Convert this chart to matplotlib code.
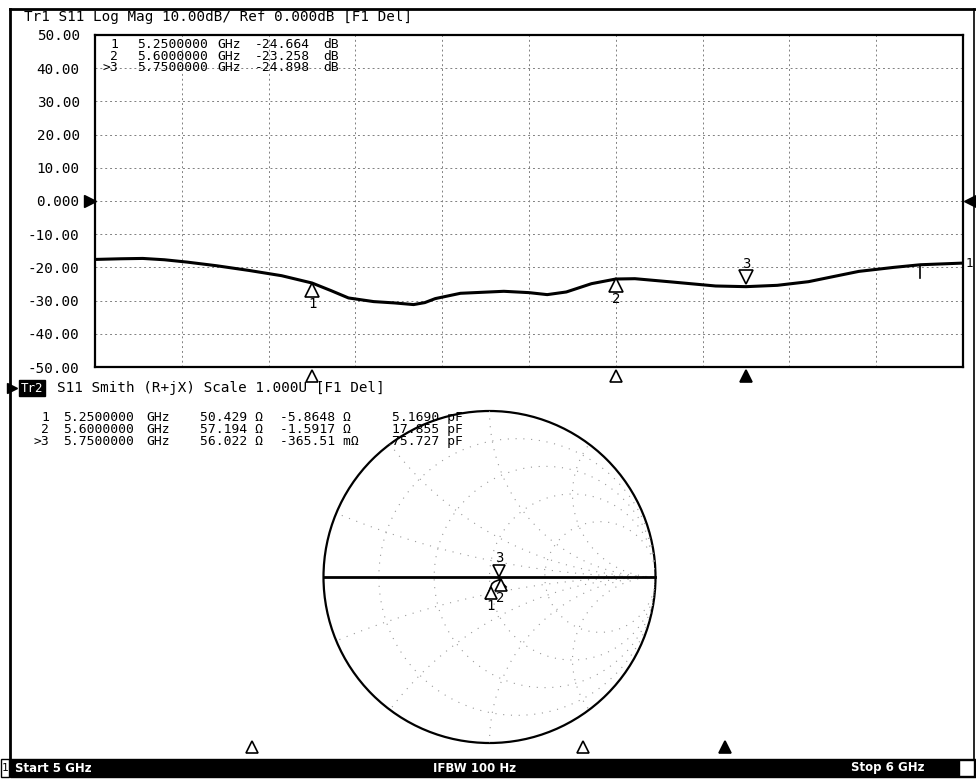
import numpy as np
import matplotlib
matplotlib.use("Agg")
import matplotlib.pyplot as plt
from matplotlib.transforms import offset_copy, blended_transform_factory
from matplotlib.patches import Circle, Rectangle

plt.rcParams['font.family'] = ['DejaVu Sans Mono', 'DejaVu Sans']

# S11 log mag trace
freq_ghz = [5.000, 5.030, 5.055, 5.080, 5.106, 5.140, 5.177, 5.215, 5.250, 5.272,
            5.292, 5.321, 5.345, 5.367, 5.380, 5.392, 5.421, 5.471, 5.500, 5.521,
            5.543, 5.572, 5.600, 5.622, 5.665, 5.715, 5.750, 5.786, 5.822, 5.850,
            5.880, 5.920, 5.951, 6.000]
s11_db = [-17.6, -17.4, -17.3, -17.7, -18.4, -19.5, -20.9, -22.5, -24.7, -27.0,
          -29.2, -30.3, -30.7, -31.2, -30.6, -29.4, -27.8, -27.2, -27.6, -28.2,
          -27.4, -24.9, -23.5, -23.4, -24.4, -25.6, -25.8, -25.4, -24.3, -22.8,
          -21.2, -20.0, -19.2, -18.7]

ytick_vals = [50, 40, 30, 20, 10, 0, -10, -20, -30, -40, -50]
ytick_labels = ["50.00", "40.00", "30.00", "20.00", "10.00", "0.000",
                "-10.00", "-20.00", "-30.00", "-40.00", "-50.00"]

# markers
marker_ids = ["1", "2", "3"]
marker_freq = [5.25, 5.60, 5.75]
marker_db = [-24.664, -23.258, -24.898]
marker_r = [50.429, 57.194, 56.022]
marker_x = [-5.8648, -1.5917, -0.36551]
marker_r_txt = ["50.429 Ω", "57.194 Ω", "56.022 Ω"]
marker_x_txt = ["-5.8648 Ω", "-1.5917 Ω", "-365.51 mΩ"]
marker_c_txt = ["5.1690 pF", "17.855 pF", "75.727 pF"]
active = 2

# smith trace (reflection coefficient), rough reading near the centre
smith_re = [-0.02, -0.01, 0.000, 0.008, 0.015, 0.030, 0.050, 0.067, 0.062, 0.057, 0.070, 0.100]
smith_im = [-0.133, -0.105, -0.080, -0.058, -0.040, -0.028, -0.020, -0.014, -0.006, -0.003, -0.030, -0.060]

FS = 10.3   # header font
FM = 9.4    # marker readout font

fig = plt.figure(figsize=(9.76, 7.79), dpi=100)

# overlay in screen pixels for frame, header texts, status bar
ov = fig.add_axes([0, 0, 1, 1])
ov.set_xlim(0, 976)
ov.set_ylim(779, 0)
ov.axis("off")

ov.plot([10, 976], [9, 9], color="black", lw=2)
ov.plot([10, 10], [9, 760], color="black", lw=2)
ov.plot([974, 974], [9, 760], color="black", lw=1.2)

ov.text(24, 17, "Tr1 S11 Log Mag 10.00dB/ Ref 0.000dB [F1 Del]", fontsize=FS, va="center")

# smith header
ov.plot([12], [388], marker=">", color="black", ms=7)
ov.text(21, 388, "Tr2", fontsize=9, color="white", va="center",
        bbox=dict(boxstyle="square,pad=0.15", fc="black", ec="black"))
ov.text(57, 388, "S11 Smith (R+jX) Scale 1.000U [F1 Del]", fontsize=FS, va="center")

for i in range(3):
    y = 417 + 12 * i
    pre = (">" if i == active else "") + marker_ids[i]
    ov.text(49, y, pre, fontsize=FM, va="center", ha="right")
    ov.text(63, y, f"{marker_freq[i]:.7f}", fontsize=FM, va="center")
    ov.text(146, y, "GHz", fontsize=FM, va="center")
    ov.text(200, y, marker_r_txt[i], fontsize=FM, va="center")
    ov.text(280, y, marker_x_txt[i], fontsize=FM, va="center")
    ov.text(463, y, marker_c_txt[i], fontsize=FM, va="center", ha="right")

# status bar
ov.add_patch(Rectangle((10, 759), 966, 18, color="black"))
ov.add_patch(Rectangle((1, 759), 8, 18, fc="white", ec="black", lw=1))
ov.text(5, 768, "1", fontsize=8, va="center", ha="center")
ov.text(15, 768, "Start 5 GHz", fontsize=8.5, color="white", weight="bold",
        family="DejaVu Sans", va="center")
ov.text(475, 768, "IFBW 100 Hz", fontsize=8.5, color="white", weight="bold",
        family="DejaVu Sans", va="center", ha="center")
ov.text(888, 768, "Stop 6 GHz", fontsize=8.5, color="white", weight="bold",
        family="DejaVu Sans", va="center", ha="center")
ov.add_patch(Rectangle((959, 760), 15, 16, fc="white", ec="black", lw=1))

# bottom stimulus markers under smith panel (5 GHz -> x=16, 6 GHz -> x=961)
for i, f in enumerate(marker_freq):
    xb = 16 + (f - 5.0) * 945
    ov.plot([xb], [747], marker="^", ms=9, mec="black", mew=1.2,
            mfc="black" if i == active else "white", clip_on=False)

# ---- log mag panel ----
ax = fig.add_axes([95 / 976, 1 - 367 / 779, 868 / 976, 332 / 779])
ax.set_xlim(5.0, 6.0)
ax.set_ylim(-50, 50)
ax.set_yticks(ytick_vals)
ax.set_yticklabels(ytick_labels, fontsize=FS)
ax.set_xticks(np.arange(5.0, 6.001, 0.1))
ax.set_xticklabels([])
ax.tick_params(length=0, pad=11)
ax.grid(True, color="0.5", linestyle=(0, (2, 3)), lw=0.7)
for s in ax.spines.values():
    s.set_linewidth(1.6)

ax.plot(freq_ghz, s11_db, color="black", lw=2.2, solid_capstyle="butt")

# trace end label and small stimulus tick
ax.text(1.003, s11_db[-1], "1", transform=blended_transform_factory(ax.transAxes, ax.transData),
        fontsize=9, va="center", ha="left", clip_on=False)
ax.plot([5.95, 5.95], [-19.2, -23.2], color="black", lw=1.2)

# reference arrows at 0 dB
tr_l = offset_copy(blended_transform_factory(ax.transAxes, ax.transData), fig=fig, x=-5, y=0, units="dots")
tr_r = offset_copy(blended_transform_factory(ax.transAxes, ax.transData), fig=fig, x=7, y=0, units="dots")
ax.plot([0], [0], marker=">", color="black", ms=9, transform=tr_l, clip_on=False)
ax.plot([1], [0], marker="<", color="black", ms=9, transform=tr_r, clip_on=False)

# marker readout (placed in screen pixels)
for i in range(3):
    y = 44.5 + 11.5 * i
    pre = (">" if i == active else "") + marker_ids[i]
    ax.text(118, y, pre, transform=ov.transData, fontsize=FM, va="center", ha="right")
    ax.text(137, y, f"{marker_freq[i]:.7f}", transform=ov.transData, fontsize=FM, va="center")
    ax.text(217, y, "GHz", transform=ov.transData, fontsize=FM, va="center")
    ax.text(255, y, f"{marker_db[i]:.3f}", transform=ov.transData, fontsize=FM, va="center")
    ax.text(323, y, "dB", transform=ov.transData, fontsize=FM, va="center")

# marker triangles on the trace
below = offset_copy(ax.transData, fig=fig, x=0, y=-7, units="dots")
below_lbl = offset_copy(ax.transData, fig=fig, x=0, y=-21, units="dots")
above = offset_copy(ax.transData, fig=fig, x=0, y=7, units="dots")
above_lbl = offset_copy(ax.transData, fig=fig, x=0, y=20, units="dots")
for i, f in enumerate(marker_freq):
    if i == active:
        ax.plot([f], [marker_db[i]], marker="v", ms=10, mfc="white", mec="black", mew=1.2, transform=above)
        ax.text(f, marker_db[i], marker_ids[i], transform=above_lbl, fontsize=10, ha="center", va="center")
    else:
        ax.plot([f], [marker_db[i]], marker="^", ms=10, mfc="white", mec="black", mew=1.2, transform=below)
        ax.text(f, marker_db[i], marker_ids[i], transform=below_lbl, fontsize=10, ha="center", va="center")

# stimulus triangles below the log mag grid
tr_b = offset_copy(blended_transform_factory(ax.transData, ax.transAxes), fig=fig, x=0, y=-9, units="dots")
for i, f in enumerate(marker_freq):
    ax.plot([f], [0], marker="^", ms=9, mec="black", mew=1.2,
            mfc="black" if i == active else "white", transform=tr_b, clip_on=False)

# ---- smith panel ----
sm = fig.add_axes([(489.5 - 166) / 976, 1 - (577 + 166) / 779, 332 / 976, 332 / 779])
sm.set_xlim(-1, 1)
sm.set_ylim(-1, 1)
sm.axis("off")
sm.patch.set_visible(False)

edge = Circle((0, 0), 1, fill=False, ec="black", lw=1.6, clip_on=False)
sm.add_patch(edge)
clip = Circle((0, 0), 1, transform=sm.transData)

t = np.linspace(0, 2 * np.pi, 400)
for r in [0.2, 0.5, 1.0, 2.0]:
    c = r / (1 + r)
    rad = 1 / (1 + r)
    ln, = sm.plot(c + rad * np.cos(t), rad * np.sin(t), color="0.6", lw=0.8, linestyle=(0, (1, 6)))
    ln.set_clip_path(clip)
for xv in [0.2, 0.5, 1.0, 2.0, -0.2, -0.5, -1.0, -2.0]:
    rad = 1 / abs(xv)
    ln, = sm.plot(1 + rad * np.cos(t), 1 / xv + rad * np.sin(t), color="0.6", lw=0.8, linestyle=(0, (1, 6)))
    ln.set_clip_path(clip)
sm.plot([-1, 1], [0, 0], color="black", lw=2, clip_on=False)

sm.plot(smith_re, smith_im, color="black", lw=1.2)

z = np.array(marker_r) + 1j * np.array(marker_x)
gam = (z - 50) / (z + 50)
s_below = offset_copy(sm.transData, fig=fig, x=0, y=-6, units="dots")
s_below_lbl = offset_copy(sm.transData, fig=fig, x=0, y=-19, units="dots")
s_above = offset_copy(sm.transData, fig=fig, x=0, y=7, units="dots")
s_above_lbl = offset_copy(sm.transData, fig=fig, x=0, y=20, units="dots")
for i, g in enumerate(gam):
    if i == active:
        sm.plot([g.real], [g.imag], marker="v", ms=9, mfc="white", mec="black", mew=1.2, transform=s_above)
        sm.text(g.real, g.imag, marker_ids[i], transform=s_above_lbl, fontsize=10, ha="center", va="center")
    else:
        sm.plot([g.real], [g.imag], marker="^", ms=9, mfc="white", mec="black", mew=1.2, transform=s_below)
        sm.text(g.real, g.imag, marker_ids[i], transform=s_below_lbl, fontsize=10, ha="center", va="center")

fig.savefig("out.png", dpi=100)
